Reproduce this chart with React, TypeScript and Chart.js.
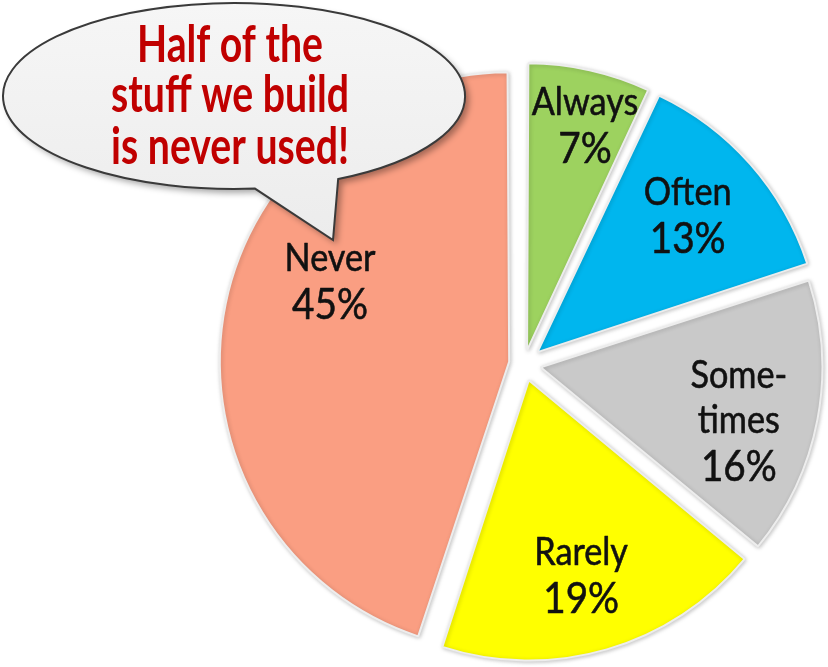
import React, { useEffect, useRef } from "react";
import { Chart, registerables } from "chart.js";

Chart.register(...registerables);

// ---- data ----
const categories = ["Always", "Often", "Sometimes", "Rarely", "Never"];
const shares = [7, 13, 16, 19, 45];
const nameLines = [["Always"], ["Often"], ["Some-", "times"], ["Rarely"], ["Never"]];
const calloutLines = ["Half of the", "stuff we build", "is never used!"];

// ---- styling / layout ----
const sliceColors = ["#9DD25F", "#00B6EE", "#C9C9C9", "#FFFF00", "#FA9E82"];
const sliceOffsets = [56, 72, 68, 68, 60];
const labelAngleShift = [1.7, -1.1, 3.8, 1.0, 14.2];
const labelDist = [247, 222, 222, 218, 211];

const bubblePlugin = {
  id: "bubbleAndLabels",
  beforeDatasetsDraw(chart: any) {
    const ctx = chart.ctx;
    ctx.save();
    ctx.shadowColor = "rgba(0,0,0,0.22)";
    ctx.shadowBlur = 4;
    ctx.shadowOffsetX = 1;
    ctx.shadowOffsetY = 1;
  },
  afterDatasetsDraw(chart: any) {
    const ctx = chart.ctx;
    ctx.restore();

    // slice labels
    const meta = chart.getDatasetMeta(0);
    meta.data.forEach((arc: any, i: number) => {
      const p = arc.getProps(["x", "y", "startAngle", "endAngle"], true);
      const a = (p.startAngle + p.endAngle) / 2 + (labelAngleShift[i] * Math.PI) / 180;
      const cx = p.x + Math.cos(a) * labelDist[i];
      const cy = p.y + Math.sin(a) * labelDist[i];
      const lines = [...nameLines[i], `${shares[i]}%`];
      const gap = 45;
      ctx.save();
      ctx.fillStyle = "#111";
      ctx.strokeStyle = "#111";
      ctx.lineWidth = 0.6;
      ctx.lineJoin = "round";
      ctx.textAlign = "center";
      ctx.textBaseline = "alphabetic";
      lines.forEach((ln, k) => {
        const isPct = k === lines.length - 1;
        ctx.font = `${isPct ? 43 : 38}px Lato, "DejaVu Sans", sans-serif`;
        const ly = cy + (k - (lines.length - 1) / 2) * gap + (isPct ? 16 : 13);
        ctx.save();
        ctx.translate(cx, ly);
        ctx.scale(0.9, 1);
        ctx.fillText(ln, 0, 0);
        ctx.strokeText(ln, 0, 0);
        ctx.restore();
      });
      ctx.restore();
    });

    // speech bubble
    const bx = 234, by = 96, rx = 231, ry = 93;
    const a1 = (84.8 * Math.PI) / 180;
    const a2 = (63.2 * Math.PI) / 180;
    const tipX = 333, tipY = 240;
    ctx.save();
    ctx.beginPath();
    ctx.ellipse(bx, by, rx, ry, 0, a1, a2, false);
    ctx.lineTo(tipX, tipY);
    ctx.closePath();
    const g = ctx.createLinearGradient(0, by - ry, 0, tipY);
    g.addColorStop(0, "#F6F6F6");
    g.addColorStop(1, "#ECECEC");
    ctx.fillStyle = g;
    ctx.shadowColor = "rgba(0,0,0,0.35)";
    ctx.shadowBlur = 6;
    ctx.shadowOffsetX = 4;
    ctx.shadowOffsetY = 4;
    ctx.fill();
    ctx.shadowColor = "transparent";
    ctx.lineWidth = 2;
    ctx.strokeStyle = "#3A3A3A";
    ctx.stroke();

    ctx.fillStyle = "#C00000";
    ctx.textAlign = "center";
    ctx.textBaseline = "alphabetic";
    ctx.font = `bold 52px Lato, "DejaVu Sans", sans-serif`;
    const sx = 238 / ctx.measureText(calloutLines[1]).width;
    const baselines = [62, 112, 164];
    calloutLines.forEach((ln, k) => {
      ctx.save();
      ctx.translate(230, baselines[k]);
      ctx.scale(sx, 1);
      ctx.fillText(ln, 0, 0);
      ctx.restore();
    });
    ctx.restore();
  },
};

export default function App() {
  const ref = useRef<HTMLCanvasElement | null>(null);
  useEffect(() => {
    if (!ref.current) return;
    const chart = new Chart(ref.current, {
      type: "pie",
      data: {
        labels: categories,
        datasets: [
          {
            data: shares,
            backgroundColor: sliceColors,
            borderColor: "#EDEDED",
            borderWidth: 2,
            offset: sliceOffsets,
            clip: false as any,
          } as any,
        ],
      },
      options: {
        animation: false,
        responsive: true,
        maintainAspectRatio: false,
        radius: 279,
        layout: { padding: { left: 220, right: 0, top: 61, bottom: 0 } },
        plugins: {
          legend: { display: false },
          tooltip: { enabled: false },
          title: { display: false },
        },
      } as any,
      plugins: [bubblePlugin],
    });
    return () => chart.destroy();
  }, []);
  return (
    <div style={{ position: "absolute", left: 0, top: 0, width: 828, height: 667, background: "#fff" }}>
      <canvas ref={ref} />
    </div>
  );
}
